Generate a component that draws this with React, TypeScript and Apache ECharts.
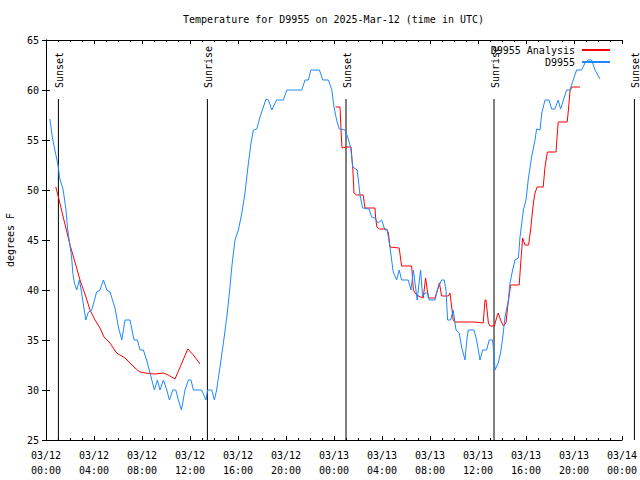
import React, { useEffect, useRef } from "react";
import * as echarts from "echarts";

const FONT = "'DejaVu Sans Mono', 'Liberation Mono', monospace";

const titleText = "Temperature for D9955 on 2025-Mar-12 (time in UTC)";
const yAxisName = "degrees F";
const xMin = 0;
const xMax = 48;
const xInterval = 4;
const yMin = 25;
const yMax = 65;
const yInterval = 5;

const sunTimes = ["03/12 01:02", "03/12 13:27", "03/13 01:00", "03/13 13:20", "03/14 01:02"];
const sunLabels = ["Sunset", "Sunrise", "Sunset", "Sunrise", "Sunset"];
const sunLineTop = 59.1;

const blueName = "D9955";
const blueTimes = [
  "03/12 00:19", "03/12 00:34", "03/12 01:02", "03/12 01:07", "03/12 01:26", "03/12 01:40", "03/12 01:47", "03/12 01:56",
  "03/12 02:08", "03/12 02:14", "03/12 02:22", "03/12 02:34", "03/12 02:47", "03/12 02:58", "03/12 03:19", "03/12 03:32",
  "03/12 03:49", "03/12 04:13", "03/12 04:30", "03/12 04:47", "03/12 05:04", "03/12 05:20", "03/12 05:45", "03/12 06:02",
  "03/12 06:19", "03/12 06:35", "03/12 07:00", "03/12 07:20", "03/12 07:37", "03/12 07:50", "03/12 08:07", "03/12 08:23",
  "03/12 08:40", "03/12 09:02", "03/12 09:17", "03/12 09:30", "03/12 09:47", "03/12 10:04", "03/12 10:17", "03/12 10:34",
  "03/12 10:49", "03/12 11:02", "03/12 11:17", "03/12 11:35", "03/12 11:52", "03/12 12:05", "03/12 12:17", "03/12 12:58",
  "03/12 13:20", "03/12 13:28", "03/12 13:49", "03/12 14:02", "03/12 14:13", "03/12 14:30", "03/12 14:47", "03/12 15:04",
  "03/12 15:17", "03/12 15:30", "03/12 15:45", "03/12 16:02", "03/12 16:19", "03/12 16:35", "03/12 16:52", "03/12 17:05",
  "03/12 17:17", "03/12 17:34", "03/12 17:50", "03/12 18:07", "03/12 18:20", "03/12 18:32", "03/12 18:49", "03/12 19:13",
  "03/12 19:47", "03/12 20:04", "03/12 21:19", "03/12 21:35", "03/12 21:52", "03/12 22:04", "03/12 22:47", "03/12 23:04",
  "03/12 23:32", "03/12 23:49", "03/13 00:00", "03/13 00:13", "03/13 00:26", "03/13 00:55", "03/13 01:08", "03/13 01:23",
  "03/13 01:34", "03/13 01:56", "03/13 02:10", "03/13 02:23", "03/13 02:56", "03/13 03:08", "03/13 03:25", "03/13 03:41",
  "03/13 03:58", "03/13 04:15", "03/13 04:26", "03/13 04:40", "03/13 04:56", "03/13 05:13", "03/13 05:26", "03/13 05:38",
  "03/13 06:11", "03/13 06:25", "03/13 06:37", "03/13 06:45", "03/13 06:56", "03/13 07:07", "03/13 07:13", "03/13 07:23",
  "03/13 07:35", "03/13 07:49", "03/13 07:56", "03/13 08:25", "03/13 08:37", "03/13 08:58", "03/13 09:11", "03/13 09:20",
  "03/13 09:28", "03/13 09:43", "03/13 09:56", "03/13 10:10", "03/13 10:26", "03/13 10:38", "03/13 10:55", "03/13 11:04",
  "03/13 11:11", "03/13 11:40", "03/13 11:53", "03/13 12:10", "03/13 12:23", "03/13 12:43", "03/13 12:56", "03/13 13:13",
  "03/13 13:20", "03/13 13:25", "03/13 13:41", "03/13 13:53", "03/13 14:04", "03/13 14:15", "03/13 14:32", "03/13 14:40",
  "03/13 14:53", "03/13 15:05", "03/13 15:22", "03/13 15:30", "03/13 15:47", "03/13 16:00", "03/13 16:11", "03/13 16:28",
  "03/13 16:45", "03/13 16:53", "03/13 17:10", "03/13 17:19", "03/13 17:35", "03/13 17:55", "03/13 18:08", "03/13 18:25",
  "03/13 18:41", "03/13 18:53", "03/13 19:07", "03/13 19:23", "03/13 19:40", "03/13 19:56", "03/13 20:13", "03/13 20:38",
  "03/13 20:55", "03/13 21:11", "03/13 21:28", "03/13 21:45", "03/13 22:10",
];
const blueTemps = [
  57.1, 55, 52.3, 51.3, 50, 48, 46.3, 45,
  43.3, 41.7, 40.7, 40, 41, 39.7, 37, 37.8,
  38, 39.8, 40, 41, 40, 39.8, 38.2, 36.3,
  35, 37, 37, 35, 35, 34, 34, 33,
  31.7, 30, 31, 30, 31, 30, 29, 30,
  30, 29, 28, 30, 31, 31, 30, 30,
  29, 30, 30, 29, 30, 32.3, 34.7, 37.3,
  39.7, 42.5, 45, 46, 47.7, 49.7, 52.7, 54.7,
  56, 56.1, 57.3, 58.3, 59.1, 59, 58, 59,
  59, 60, 60, 61, 61, 62, 62, 61,
  61, 60, 58.3, 57, 56.1, 56, 55.3, 54.3,
  52.3, 52, 49.5, 48.2, 48.1, 47.3, 47.2, 46.7,
  47, 46, 46, 44.3, 41.8, 41, 42, 41,
  41, 40, 42, 40.7, 39, 41, 42, 39.3,
  39.7, 39.7, 39, 39, 40, 41, 41, 40,
  37, 37, 38, 36, 35.7, 34.3, 33, 35,
  36, 36, 35, 33, 34, 34, 35, 35,
  33.5, 32, 32.7, 33.7, 35.3, 37.3, 39, 40.7,
  42, 43, 43.2, 45.3, 48, 49, 51, 53.3,
  55, 56.1, 56, 57.7, 59, 59, 58.1, 58.1,
  59, 58.1, 59, 60, 60, 61, 62, 62,
  62.7, 63, 63, 62, 61.1,
];

const redName = "D9955 Analysis";
const red1Times = [
  "03/12 00:49", "03/12 01:02", "03/12 01:26", "03/12 02:00", "03/12 02:22", "03/12 02:50", "03/12 03:23", "03/12 03:40",
  "03/12 04:05", "03/12 04:30", "03/12 04:50", "03/12 05:20", "03/12 05:53", "03/12 06:35", "03/12 07:00", "03/12 07:25",
  "03/12 07:50", "03/12 08:15", "03/12 09:05", "03/12 09:47", "03/12 10:11", "03/12 10:45", "03/12 11:19", "03/12 11:49",
  "03/12 12:17", "03/12 12:50",
];
const red1Temps = [
  50.3, 49.3, 47.3, 44.5, 43, 41, 39.1, 38,
  37, 36.2, 35.3, 34.7, 33.7, 33.2, 32.7, 32.2,
  31.8, 31.7, 31.6, 31.7, 31.5, 31.1, 32.7, 34.1,
  33.5, 32.6,
];
const red2Times = [
  "03/13 00:08", "03/13 00:30", "03/13 00:38", "03/13 00:41", "03/13 01:00", "03/13 01:25", "03/13 01:34", "03/13 01:40",
  "03/13 01:53", "03/13 02:26", "03/13 02:35", "03/13 03:25", "03/13 03:28", "03/13 03:34", "03/13 03:47", "03/13 04:23",
  "03/13 04:32", "03/13 04:40", "03/13 05:26", "03/13 05:38", "03/13 06:28", "03/13 06:37", "03/13 06:53", "03/13 07:13",
  "03/13 07:26", "03/13 07:38", "03/13 07:52", "03/13 08:25", "03/13 08:37", "03/13 08:47", "03/13 08:58", "03/13 09:32",
  "03/13 09:40", "03/13 09:49", "03/13 09:56", "03/13 10:05", "03/13 11:45", "03/13 12:26", "03/13 12:35", "03/13 12:40",
  "03/13 12:52", "03/13 13:00", "03/13 13:22", "03/13 13:34", "03/13 13:41", "03/13 13:53", "03/13 14:07", "03/13 14:20",
  "03/13 14:28", "03/13 14:43", "03/13 15:26", "03/13 15:34", "03/13 15:43", "03/13 15:55", "03/13 16:13", "03/13 16:23",
  "03/13 16:28", "03/13 16:37", "03/13 16:45", "03/13 16:56", "03/13 17:26", "03/13 17:35", "03/13 17:47", "03/13 18:30",
  "03/13 18:37", "03/13 18:41", "03/13 19:26", "03/13 19:32", "03/13 19:40", "03/13 19:49", "03/13 20:30",
];
const red2Temps = [
  58.3, 58.3, 54.8, 54.2, 54.3, 54.3, 52.1, 49.7,
  49.5, 49.5, 48.2, 48.2, 47.3, 46.3, 46.1, 46.1,
  45.7, 44.3, 44.2, 42.4, 42.4, 40, 39.5, 39.3,
  39.2, 41.2, 39.2, 39.2, 40, 40.7, 39.4, 39.4,
  39.7, 38.2, 37, 36.8, 36.8, 36.7, 39, 39,
  36.7, 36.4, 36.4, 37.3, 37.7, 37, 36.4, 36.7,
  38.3, 40.5, 40.5, 42.8, 45.2, 44.5, 44.5, 46,
  47, 48.7, 49.7, 50.3, 50.3, 52.3, 53.8, 53.8,
  55.7, 56.8, 56.8, 58, 59.9, 60.3, 60.3,
];

// hours since 03/12 00:00 UTC
function toHours(s: string): number {
  const day = parseInt(s.slice(3, 5), 10);
  const hh = parseInt(s.slice(6, 8), 10);
  const mm = parseInt(s.slice(9, 11), 10);
  return (day - 12) * 24 + hh + mm / 60;
}

function fmtTick(h: number): string {
  const day = 12 + Math.floor(h / 24);
  const hh = Math.round(h % 24);
  return `03/${String(day).padStart(2, "0")}\n${String(hh).padStart(2, "0")}:00`;
}

const pairs = (t: string[], v: number[]) => t.map((s, i) => [toHours(s), v[i]]);

export default function App() {
  const ref = useRef<HTMLDivElement>(null);

  useEffect(() => {
    if (!ref.current) return;
    const chart = echarts.init(ref.current, null, { renderer: "svg" });
    const black = "#000";
    const baseX = {
      type: "value" as const,
      min: xMin,
      max: xMax,
      interval: xInterval,
      axisLine: { show: true, lineStyle: { color: black, width: 1 } },
      axisTick: { show: true, inside: true, length: 4, lineStyle: { color: black } },
      minorTick: { show: true, splitNumber: 4, length: 2, lineStyle: { color: black } },
      splitLine: { show: false },
      minorSplitLine: { show: false },
    };
    const baseY = {
      type: "value" as const,
      min: yMin,
      max: yMax,
      interval: yInterval,
      axisLine: { show: true, lineStyle: { color: black, width: 1 } },
      axisTick: { show: true, inside: true, length: 4, lineStyle: { color: black } },
      splitLine: { show: false },
    };
    chart.setOption({
      animation: false,
      backgroundColor: "#fff",
      title: {
        text: titleText,
        left: 183,
        top: 14,
        padding: 0,
        textStyle: { fontFamily: FONT, fontSize: 10, fontWeight: "normal", color: black },
      },
      legend: {
        data: [redName, blueName],
        orient: "vertical",
        align: "right",
        right: 30,
        top: 45,
        padding: 0,
        itemWidth: 28,
        itemHeight: 2,
        itemGap: 2,
        icon: "rect",
        textStyle: { fontFamily: FONT, fontSize: 10, color: black, padding: [0, 2, 0, 0] },
      },
      grid: { left: 46, right: 18, top: 40, bottom: 40, containLabel: false, outerBoundsMode: "none" },
      xAxis: [
        {
          ...baseX,
          position: "bottom",
          axisLabel: {
            show: true,
            formatter: (v: number) => fmtTick(v),
            fontFamily: FONT,
            fontSize: 10,
            color: black,
            lineHeight: 15,
            margin: 8,
            showMinLabel: true,
            showMaxLabel: true,
          },
        },
        { ...baseX, position: "top", axisLabel: { show: false } },
      ],
      yAxis: [
        {
          ...baseY,
          position: "left",
          name: yAxisName,
          nameLocation: "middle",
          nameGap: 31,
          nameRotate: 90,
          nameTextStyle: { fontFamily: FONT, fontSize: 10, color: black },
          axisLabel: {
            show: true,
            fontFamily: FONT,
            fontSize: 10,
            color: black,
            margin: 7,
            showMinLabel: true,
            showMaxLabel: true,
          },
        },
        { ...baseY, position: "right", axisLabel: { show: false } },
      ],
      series: [
        {
          type: "custom",
          name: "sun",
          clip: false,
          silent: true,
          data: sunTimes.map((s, i) => [toHours(s), i]),
          renderItem: (params: any, api: any) => {
            const t = api.value(0);
            const idx = api.value(1);
            const top = api.coord([t, sunLineTop]);
            const bottom = api.coord([t, yMin]);
            return {
              type: "group",
              children: [
                {
                  type: "line",
                  shape: { x1: top[0], y1: top[1], x2: bottom[0], y2: bottom[1] },
                  style: { stroke: black, lineWidth: 1 },
                },
                {
                  type: "text",
                  x: top[0] + 1,
                  y: top[1] - 11,
                  rotation: Math.PI / 2,
                  style: {
                    text: sunLabels[idx],
                    fill: black,
                    font: `10px ${FONT}`,
                    align: "left",
                    verticalAlign: "middle",
                  },
                },
              ],
            };
          },
          z: 1,
        },
        {
          type: "line",
          name: redName,
          data: pairs(red1Times, red1Temps),
          showSymbol: false,
          symbol: "none",
          color: "#ff0000",
          lineStyle: { color: "#ff0000", width: 1 },
          z: 2,
        },
        {
          type: "line",
          name: redName,
          data: pairs(red2Times, red2Temps),
          showSymbol: false,
          symbol: "none",
          color: "#ff0000",
          lineStyle: { color: "#ff0000", width: 1 },
          z: 2,
        },
        {
          type: "line",
          name: blueName,
          data: pairs(blueTimes, blueTemps),
          showSymbol: false,
          symbol: "none",
          color: "#1e88ff",
          lineStyle: { color: "#1e88ff", width: 1 },
          z: 3,
        },
      ],
    });
    return () => chart.dispose();
  }, []);

  return (
    <div
      ref={ref}
      style={{ position: "absolute", left: 0, top: 0, width: 640, height: 480, background: "#fff" }}
    />
  );
}
